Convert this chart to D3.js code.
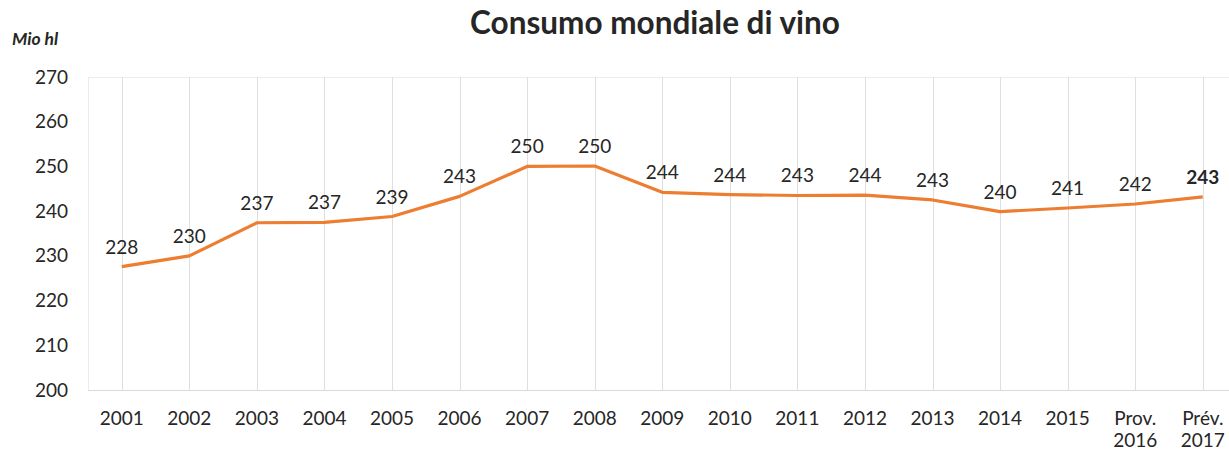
<!DOCTYPE html>
<html>
<head>
<meta charset="utf-8">
<script src="https://cdn.jsdelivr.net/npm/d3@7"></script>
<style>
  body { margin: 0; background: #fff; }
  text { font-family: Lato, "Open Sans", sans-serif; fill: #262626; }
</style>
</head>
<body>
<div id="main-chart"></div>
<script>
// categories and values
let years = ['2001','2002','2003','2004','2005','2006','2007','2008','2009','2010','2011','2012','2013','2014','2015','Prov.|2016','Prév.|2017'];
let consumo = [227.6, 230.0, 237.4, 237.5, 238.8, 243.3, 250.0, 250.1, 244.2, 243.7, 243.5, 243.6, 242.5, 239.9, 240.7, 241.6, 243.2];
let labels = ['228','230','237','237','239','243','250','250','244','244','243','244','243','240','241','242','243'];
let yTicks = [200, 210, 220, 230, 240, 250, 260, 270];

let W = 1229, H = 452;
let margin = {left:88, top:77, bottom:62};
let step = 67.56;

let x = d3.scaleBand()
          .domain(years)
          .range([margin.left, margin.left + step * years.length]);

let y = d3.scaleLinear()
          .domain([200, 270])
          .range([H - margin.bottom, margin.top]);

let svg = d3.select('#main-chart')
            .append('svg')
            .attr('width', W)
            .attr('height', H);

// plot area border
svg.append('rect')
   .attr('x', x.range()[0] + 0.5)
   .attr('y', y(270) + 0.5)
   .attr('width', x.range()[1] - x.range()[0])
   .attr('height', y(200) - y(270))
   .attr('fill', 'none')
   .attr('stroke', '#ececec');

// vertical gridlines at category centres
svg.append('g')
   .selectAll('line')
   .data(years)
   .join('line')
   .attr('x1', d => Math.round(x(d) + x.bandwidth()/2) + 0.5)
   .attr('x2', d => Math.round(x(d) + x.bandwidth()/2) + 0.5)
   .attr('y1', y(270))
   .attr('y2', y(200))
   .attr('stroke', '#dedede');

// bottom axis line
svg.append('line')
   .attr('x1', x.range()[0])
   .attr('x2', x.range()[1])
   .attr('y1', Math.round(y(200)) + 0.5)
   .attr('y2', Math.round(y(200)) + 0.5)
   .attr('stroke', '#d9d9d9');

// y axis labels
let yAxis = svg.append('g')
   .attr('transform', `translate(${margin.left},0)`)
   .call(d3.axisLeft(y).tickValues(yTicks).tickSize(0).tickPadding(20));
yAxis.select('.domain').remove();
yAxis.selectAll('text')
     .style('font-family', 'Lato, sans-serif')
     .style('font-size', '19px')
     .attr('fill', '#262626');

// x axis labels (two lines for provisional years)
let xAxis = svg.append('g')
   .attr('transform', `translate(0,${y(200)})`)
   .call(d3.axisBottom(x).tickSize(0).tickFormat(''));
xAxis.select('.domain').remove();
xAxis.selectAll('.tick')
     .append('text')
     .attr('text-anchor', 'middle')
     .style('font-family', 'Lato, sans-serif')
     .style('font-size', '19px')
     .attr('fill', '#262626')
     .selectAll('tspan')
     .data(d => d.split('|'))
     .join('tspan')
     .attr('x', 0)
     .attr('y', (d, i) => 35 + i * 22)
     .text(d => d);

// line
let line = d3.line()
             .x((d, i) => x(years[i]) + x.bandwidth()/2)
             .y(d => y(d));

svg.append('path')
   .datum(consumo)
   .attr('d', line)
   .attr('fill', 'none')
   .attr('stroke', '#ed7d31')
   .attr('stroke-width', 3.2)
   .attr('stroke-linejoin', 'round');

// data labels
svg.append('g')
   .selectAll('text')
   .data(consumo)
   .join('text')
   .attr('x', (d, i) => x(years[i]) + x.bandwidth()/2)
   .attr('y', d => y(d) - 13)
   .attr('text-anchor', 'middle')
   .style('font-size', '19px')
   .style('font-weight', (d, i) => i === consumo.length - 1 ? 'bold' : 'normal')
   .text((d, i) => labels[i]);

// title
svg.append('text')
   .attr('x', 655)
   .attr('y', 34)
   .attr('text-anchor', 'middle')
   .style('font-size', '31.5px')
   .style('font-weight', 'bold')
   .attr('fill', '#0d0d0d')
   .text('Consumo mondiale di vino');

// unit label
svg.append('text')
   .attr('x', 12)
   .attr('y', 45)
   .style('font-size', '17.5px')
   .style('font-weight', 'bold')
   .style('font-style', 'italic')
   .text('Mio hl');
</script>
</body>
</html>
